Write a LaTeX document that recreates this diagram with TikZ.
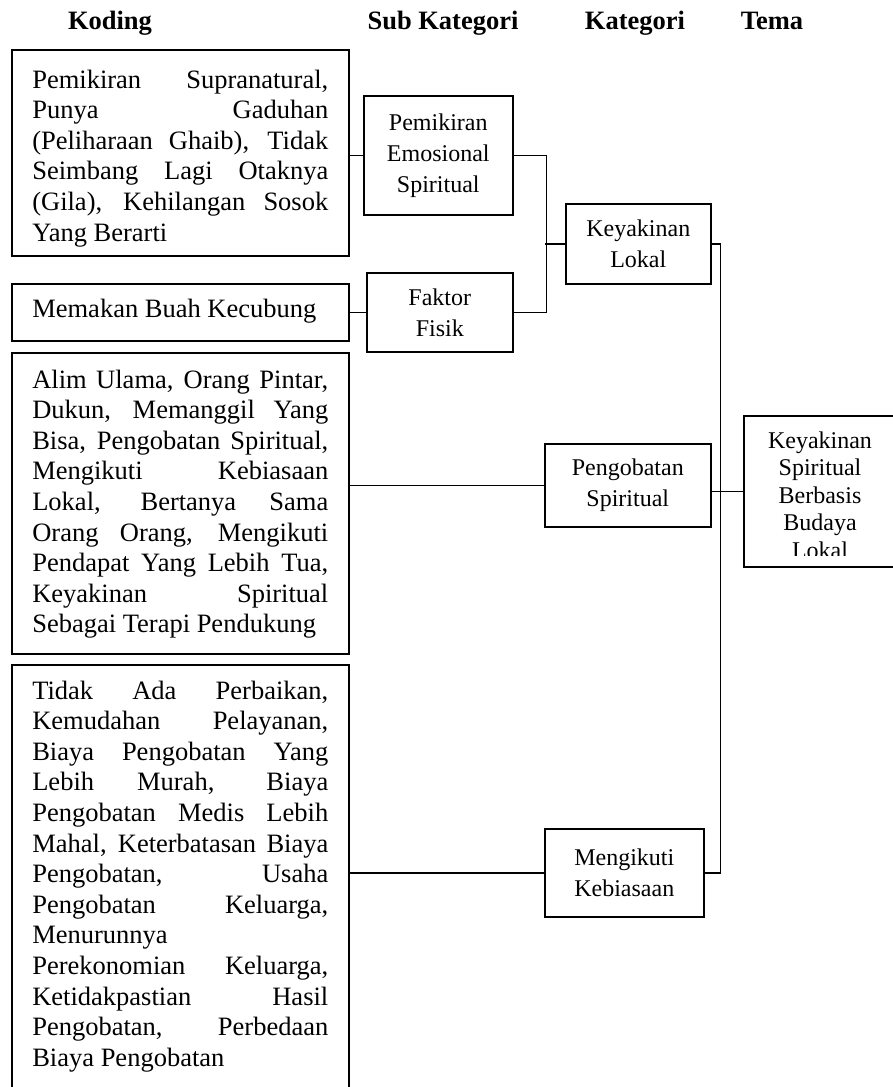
\documentclass[tikz,border=0pt]{standalone}
\usepackage{fontspec}
\setmainfont{Liberation Serif}
\tolerance=10000 \hbadness=10000 \hyphenpenalty=10000 \exhyphenpenalty=10000
\newcommand{\kodpar}[3]{\parbox[c][#1pt][t]{296pt}{\vspace*{#2pt}#3}}
\begin{document}
\begin{tikzpicture}[x=1pt,y=-1pt, line width=1.6pt, line join=miter,
	head/.style={anchor=base, font=\fontsize{26.5}{30}\selectfont\bfseries},
	kod/.style={draw, anchor=north west, inner xsep=20.5pt, inner ysep=0pt, font=\fontsize{26.5}{30.6}\selectfont},
	sub/.style={draw, anchor=north west, inner sep=0pt, align=center, font=\fontsize{24}{31}\selectfont}]
	\useasboundingbox (0,0) rectangle (893,1087);
	\clip (0,0) rectangle (893,1087);
	\node[head] (hkod) at (110,29) {Koding};
	\node[head] (hsub) at (443,29) {Sub Kategori};
	\node[head] (hkat) at (635,29) {Kategori};
	\node[head] (htema) at (772,29) {Tema};
	\node[kod] (kod1) at (11,49) {\kodpar{206}{20}{Pemikiran Supranatural,\linebreak Punya Gaduhan\linebreak (Peliharaan Ghaib), Tidak\linebreak Seimbang Lagi Otaknya\linebreak (Gila), Kehilangan Sosok\linebreak Yang Berarti}};
	\node[kod] (kod2) at (11,283) {\kodpar{57}{15}{Memakan Buah Kecubung}};
	\node[kod] (kod3) at (11,352) {\kodpar{301}{17}{Alim Ulama, Orang Pintar,\linebreak Dukun, Memanggil Yang\linebreak Bisa, Pengobatan Spiritual,\linebreak Mengikuti Kebiasaan\linebreak Lokal, Bertanya Sama\linebreak Orang Orang, Mengikuti\linebreak Pendapat Yang Lebih Tua,\linebreak Keyakinan Spiritual\linebreak Sebagai Terapi Pendukung}};
	\node[kod] (kod4) at (11,664) {\kodpar{460}{16}{Tidak Ada Perbaikan,\linebreak Kemudahan Pelayanan,\linebreak Biaya Pengobatan Yang\linebreak Lebih Murah, Biaya\linebreak Pengobatan Medis Lebih\linebreak Mahal, Keterbatasan Biaya\linebreak Pengobatan, Usaha\linebreak Pengobatan Keluarga,\linebreak Menurunnya\newline Perekonomian Keluarga,\linebreak Ketidakpastian Hasil\linebreak Pengobatan, Perbedaan\linebreak Biaya Pengobatan}};
	\node[sub, minimum width=149pt, minimum height=119pt] (sub1) at (363,95) {Pemikiran\\Emosional\\Spiritual};
	\node[sub, minimum width=146pt, minimum height=79pt] (sub2) at (366,272) {Faktor\\Fisik};
	\node[sub, minimum width=145pt, minimum height=80pt] (kat1) at (565,203) {Keyakinan\\Lokal};
	\node[sub, minimum width=166pt, minimum height=83pt] (kat2) at (544,443) {Pengobatan\\Spiritual};
	\node[sub, minimum width=159pt, minimum height=88pt] (kat3) at (544,828) {Mengikuti\\Kebiasaan};
	\node[sub, minimum width=155pt, minimum height=151pt] (tema) at (743,415) {};
	\begin{scope}
		\clip (743,415) rectangle (898,555);
		\node[anchor=north, inner sep=0pt, align=center, font=\fontsize{24}{27.5}\selectfont] (tematext) at (820,430.6) {Keyakinan\\Spiritual\\Berbasis\\Budaya\\Lokal};
	\end{scope}
	\draw (sub1.west) -- (sub1.west -| kod1.east);
	\draw (sub2.west) -- (sub2.west -| kod2.east);
	\draw (sub1.east) -- ++(33,0) |- (sub2.east);
	\draw (kat1.west) -- ++(-20,0);
	\draw (kat1.east) -- ++(9,0) |- (kat3.east);
	\draw (kat2.west) -- (kat2.west -| kod3.east);
	\draw (kat3.west) -- (kat3.west -| kod4.east);
	\draw (tema.west) -- (tema.west -| kat2.east);
\end{tikzpicture}
\end{document}
